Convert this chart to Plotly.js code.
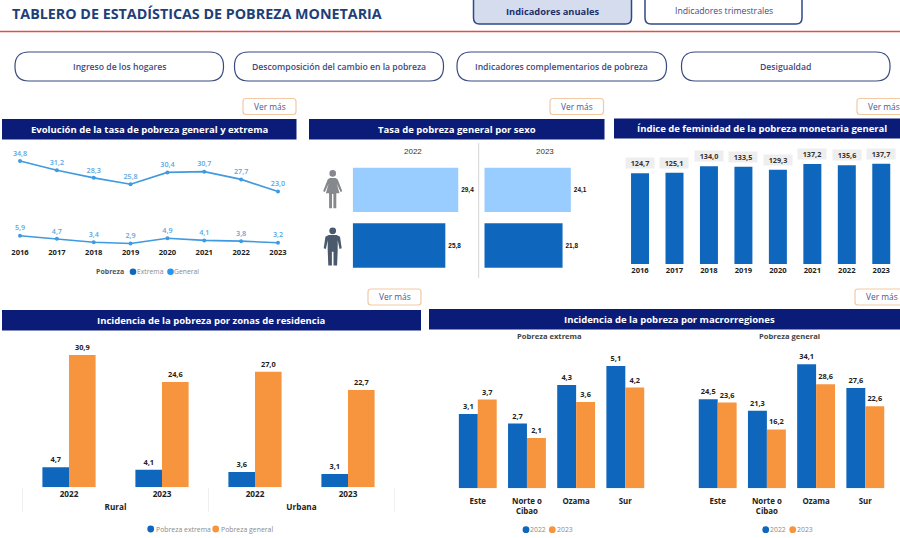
<!DOCTYPE html>
<html><head><meta charset="utf-8">
<script src="https://cdn.plot.ly/plotly-3.0.1.min.js"></script>
<style>html,body{margin:0;padding:0;background:#fff;overflow:hidden}#chart{width:900px;height:538px}</style>
</head><body><div id="chart"></div>
<script>
// ---------- data ----------
const years = ['2016','2017','2018','2019','2020','2021','2022','2023'];
const generalRate = [34.8,31.2,28.3,25.8,30.4,30.7,27.7,23.0];
const extremeRate = [5.9,4.7,3.4,2.9,4.9,4.1,3.8,3.2];
const sexes = ['Mujeres','Hombres'];
const sex2022 = [29.4,25.8];
const sex2023 = [24.1,21.8];
const feminityIndex = [124.7,125.1,134.0,133.5,129.3,137.2,135.6,137.7];
const zoneGroups = ['Rural','Rural','Urbana','Urbana'];
const zoneYears = ['2022','2023','2022','2023'];
const zoneExtreme = [4.7,4.1,3.6,3.1];
const zoneGeneral = [30.9,24.6,27.0,22.7];
const regions = ['Este','Norte o<br>Cibao','Ozama','Sur'];
const regionExtreme2022 = [3.1,2.7,4.3,5.1];
const regionExtreme2023 = [3.7,2.1,3.6,4.2];
const regionGeneral2022 = [24.5,21.3,34.1,27.6];
const regionGeneral2023 = [23.6,16.2,28.6,22.6];

// ---------- helpers ----------
const W=900,H=538;
const FONT='"Open Sans", sans-serif';
const BLUE='#0f67bd',ORANGE='#f7953f',SKY='#3f9ae0',LIGHT='#99ccff',NAVY='#0a1c78';
const px=x=>x/W, py=y=>1-y/H;
const fmt=v=>v.toFixed(1).replace('.',',');
const domX=(a,b)=>[a/W,b/W], domY=(top,bot)=>[1-bot/H,1-top/H];
const shapes=[],annotations=[];
function rr(x0,y0,x1,y1,r,fill,line,lw){
  const p=(x,y)=>px(x)+' '+py(y);
  shapes.push({type:'path',xref:'paper',yref:'paper',fillcolor:fill,line:{color:line,width:lw||1.3},
    path:`M${p(x0+r,y0)} L${p(x1-r,y0)} Q${p(x1,y0)} ${p(x1,y0+r)} L${p(x1,y1-r)} Q${p(x1,y1)} ${p(x1-r,y1)} L${p(x0+r,y1)} Q${p(x0,y1)} ${p(x0,y1-r)} L${p(x0,y0+r)} Q${p(x0,y0)} ${p(x0+r,y0)} Z`});
}
function txt(x,y,text,size,color,weight,anchor,family){
  annotations.push({xref:'paper',yref:'paper',x:px(x),y:py(y),text,showarrow:false,xanchor:anchor||'center',yanchor:'middle',
    font:{family:family||FONT,size,color,weight:weight||400},borderpad:0,borderwidth:0});
}
function rect(x0,y0,x1,y1,c){shapes.push({type:'rect',xref:'paper',yref:'paper',x0:px(x0),x1:px(x1),y0:py(y1),y1:py(y0),fillcolor:c,line:{width:0}});}
function dot(x,y,r,c){shapes.push({type:'circle',xref:'paper',yref:'paper',x0:px(x-r),x1:px(x+r),y0:py(y+r),y1:py(y-r),fillcolor:c,line:{width:0}});}
function header(x0,y0,x1,y1,t,cx){rect(x0,y0,x1,y1,NAVY);txt(cx!==undefined?cx:(x0+x1)/2,(y0+y1)/2,t,9.5,'#fff',700);}
function verMas(x0,y0,x1){rr(x0,y0,x1,y0+16,3,'#fff','#f3c9a3',1.2);txt(x0+27,y0+8,'Ver más',8.4,'#4d5590',400);}
function poly(pts,cx,top,c){
  const d=pts.map((q,i)=>(i?'L':'M')+px(cx+q[0])+' '+py(top+q[1])).join(' ')+' Z';
  shapes.push({type:'path',xref:'paper',yref:'paper',path:d,fillcolor:c,line:{width:0}});
}

// ---------- page furniture ----------
txt(11.5,14,'TABLERO DE ESTADÍSTICAS DE POBREZA MONETARIA',14.3,'#1e3f78',700,'left');
shapes.push({type:'line',xref:'paper',yref:'paper',x0:px(0),x1:px(900),y0:py(31.5),y1:py(31.5),line:{color:'#d9504c',width:1.5}});
rr(473.5,-6,631.5,24,6,'#d5dcee','#2f4a8a',1.5);
txt(552,11.5,'Indicadores anuales',9.3,'#1e2f6a',700);
rr(645,-6,802,24,6,'#fff','#2f4a8a',1.5);
txt(723.5,11.5,'Indicadores trimestrales',8.7,'#3f4a80',400);
[[15,223.5,'Ingreso de los hogares'],[234.5,443.5,'Descomposición del cambio en la pobreza'],
 [457,666.5,'Indicadores complementarios de pobreza'],[681.5,890,'Desigualdad']].forEach(b=>{
  rr(b[0],52,b[1],81,14,'#fff','#3a4a80',1.2);
  txt((b[0]+b[1])/2,67.4,b[2],8.65,'#3f4a80',600);
});
verMas(243,98.5,296);verMas(550,98.5,603.5);verMas(857,98.5,912);verMas(368,289,421);verMas(855,289,912);
header(2,119,296.5,139.5,'Evolución de la tasa de pobreza general y extrema');
header(309,119,604.5,139.5,'Tasa de pobreza general por sexo');
header(614,118.5,900,138.5,'Índice de feminidad de la pobreza monetaria general',762);
header(2,310,421,330.5,'Incidencia de la pobreza por zonas de residencia');
header(429,309,900,329.5,'Incidencia de la pobreza por macrorregiones',669);

// panel 1 legend
txt(110,271.7,'Pobreza',7,'#555',700);
dot(133,271.7,3.3,BLUE);txt(137,271.7,'Extrema',6.8,'#8a8a8a',400,'left');
dot(170.5,271.7,3.3,'#2196f3');txt(174.3,271.7,'General',6.8,'#8a8a8a',400,'left');
// panel 2 furniture
shapes.push({type:'line',xref:'paper',yref:'paper',x0:px(478.7),x1:px(478.7),y0:py(143),y1:py(278),line:{color:'#d4d4d4',width:1}});
txt(412.5,151.5,'2022',8,'#333',400,'center','"Liberation Sans"');
txt(544.5,151.5,'2023',8,'#333',400,'center','"Liberation Sans"');
// pictograms
const fem=[[-3,8],[3,8],[5,9.5],[9.5,21],[8,22.3],[4,13.5],[6.8,23.3],[3.6,23.3],[3.6,38.3],[0.7,38.3],[0.7,24],[-0.7,24],[-0.7,38.3],[-3.6,38.3],[-3.6,23.3],[-6.8,23.3],[-4,13.5],[-8,22.3],[-9.5,21],[-5,9.5]];
const mal=[[-4,7.8],[4,7.8],[7.3,9.5],[9,21],[6.8,21.8],[5,13],[5,23],[4.4,38.3],[0.8,38.3],[0.8,24.5],[-0.8,24.5],[-0.8,38.3],[-4.4,38.3],[-5,23],[-5,13],[-6.8,21.8],[-9,21],[-7.3,9.5]];
dot(332.7,173.4,3.3,'#85888c');poly(fem,332.7,170,'#85888c');
dot(332.7,230.8,3.4,'#4a5a6c');poly(mal,332.7,227.3,'#4a5a6c');
// panel 4 legend
dot(150.7,529,3.4,BLUE);txt(155.5,529,'Pobreza extrema',6.9,'#8a8a8a',400,'left');
dot(215.7,529,3.4,ORANGE);txt(220.5,529,'Pobreza general',6.9,'#8a8a8a',400,'left');
// panel 5/6 furniture
txt(549,336.3,'Pobreza extrema',7.6,'#444',700);
txt(789,336.3,'Pobreza general',7.6,'#444',700);
[[526,552.3],[765.7,792.7]].forEach(a=>{
  dot(a[0],529.7,3.4,BLUE);txt(a[0]+4.2,529.7,'2022',6.9,'#8a8a8a',400,'left');
  dot(a[1],529.7,3.4,ORANGE);txt(a[1]+4.2,529.7,'2023',6.9,'#8a8a8a',400,'left');
});

// feminity labels as grey chips (year labels look numeric, so the category index is used)
feminityIndex.forEach((v,i)=>annotations.push({xref:'x4',yref:'y4',x:i,y:v,text:fmt(v),showarrow:false,yanchor:'bottom',yshift:4,
  width:28,height:10,bgcolor:'#eeeeee',borderpad:0,font:{family:FONT,size:7.2,color:'#333',weight:700}}));

// ---------- traces ----------
const lblFont={family:FONT,size:7.4,color:'#222',weight:700};
const bar=(o)=>Object.assign({type:'bar',textposition:'outside',cliponaxis:false,textangle:0,constraintext:'none',textfont:lblFont},o);
const lineTrace=(name,vals)=>({type:'scatter',mode:'lines+markers+text',name,x:years,y:vals,xaxis:'x',yaxis:'y',cliponaxis:false,
  line:{color:SKY,width:1.6},marker:{color:SKY,size:4},text:vals.map(fmt),textposition:'top center',
  textfont:{family:FONT,size:7.2,color:'#5aa7df',weight:600}});
const W4=0.286,W5=0.385;
const traces=[
  lineTrace('General',generalRate),
  lineTrace('Extrema',extremeRate),
  bar({name:'2022',orientation:'h',y:sexes,x:sex2022,xaxis:'x2',yaxis:'y2',width:0.797,offset:-0.3985,marker:{color:[LIGHT,BLUE]},text:sex2022.map(fmt),
    textfont:{family:'"Liberation Sans"',size:6.4,color:'#111',weight:700}}),
  bar({name:'2023',orientation:'h',y:sexes,x:sex2023,xaxis:'x3',yaxis:'y3',width:0.797,offset:-0.3985,marker:{color:[LIGHT,BLUE]},text:sex2023.map(fmt),
    textfont:{family:'"Liberation Sans"',size:6.4,color:'#111',weight:700}}),
  bar({name:'Índice de feminidad',x:years,y:feminityIndex,xaxis:'x4',yaxis:'y4',width:0.522,offset:-0.261,marker:{color:BLUE},textposition:'none'}),
  bar({name:'Pobreza extrema',x:[zoneGroups,zoneYears],y:zoneExtreme,xaxis:'x5',yaxis:'y5',width:W4,offset:-W4,marker:{color:BLUE},text:zoneExtreme.map(fmt)}),
  bar({name:'Pobreza general',x:[zoneGroups,zoneYears],y:zoneGeneral,xaxis:'x5',yaxis:'y5',width:W4,offset:0,marker:{color:ORANGE},text:zoneGeneral.map(fmt)}),
  bar({name:'2022',x:regions,y:regionExtreme2022,xaxis:'x6',yaxis:'y6',width:W5,offset:-W5,marker:{color:BLUE},text:regionExtreme2022.map(fmt)}),
  bar({name:'2023',x:regions,y:regionExtreme2023,xaxis:'x6',yaxis:'y6',width:W5,offset:0,marker:{color:ORANGE},text:regionExtreme2023.map(fmt)}),
  bar({name:'2022',x:regions,y:regionGeneral2022,xaxis:'x7',yaxis:'y7',width:W5,offset:-W5,marker:{color:BLUE},text:regionGeneral2022.map(fmt)}),
  bar({name:'2023',x:regions,y:regionGeneral2023,xaxis:'x7',yaxis:'y7',width:W5,offset:0,marker:{color:ORANGE},text:regionGeneral2023.map(fmt)})
];

// ---------- axes ----------
const tick=(size,c)=>({family:FONT,size:size,color:c||'#222',weight:700});
const xa=(d,a,extra)=>Object.assign({domain:d,anchor:a,showgrid:false,zeroline:false,showline:false,ticks:'',fixedrange:true,tickfont:tick(7.6),automargin:false},extra||{});
const ya=(d,a,range,extra)=>Object.assign({domain:d,anchor:a,visible:false,range,showgrid:false,zeroline:false,fixedrange:true,automargin:false},extra||{});
const layout={
  width:W,height:H,margin:{l:0,r:0,t:0,b:0},paper_bgcolor:'#fff',plot_bgcolor:'rgba(0,0,0,0)',showlegend:false,barmode:'group',
  font:{family:FONT},shapes,annotations,
  xaxis:xa(domX(1.6,296.4),'y',{type:'category',range:[-0.5,7.5]}),
  yaxis:ya(domY(150,246),'x',[1.93,39.07]),
  xaxis2:xa(domX(352.7,460.4),'y2',{visible:false,range:[0,30]}),
  yaxis2:ya(domY(162,273.4),'x2',[1.5,-0.5],{type:'category'}),
  xaxis3:xa(domX(484.3,592),'y3',{visible:false,range:[0,30]}),
  yaxis3:ya(domY(162,273.4),'x3',[1.5,-0.5],{type:'category'}),
  xaxis4:xa(domX(622.8,898.5),'y4',{type:'category',range:[-0.5,7.5]}),
  yaxis4:ya(domY(154.7,264),'x4',[0,150],{visible:true,showticklabels:false,showline:false,ticks:''}),
  xaxis5:xa(domX(22.5,394.5),'y5',{type:'multicategory',range:[-0.5,3.5],tickfont:tick(8.2),showdividers:true,dividercolor:'#efefef',dividerwidth:1}),
  yaxis5:ya(domY(346,487.3),'x5',[0,33]),
  xaxis6:xa(domX(453.2,649.9),'y6',{type:'category',range:[-0.5,3.5],ticklabelstandoff:7,tickfont:tick(7.9)}),
  yaxis6:ya(domY(353.9,488.3),'x6',[0,5.6]),
  xaxis7:xa(domX(693.1,889.9),'y7',{type:'category',range:[-0.5,3.5],ticklabelstandoff:7,tickfont:tick(7.9)}),
  yaxis7:ya(domY(353.8,488.3),'x7',[0,37])
};
Plotly.newPlot('chart',traces,layout,{displayModeBar:false,responsive:false});
</script></body></html>
